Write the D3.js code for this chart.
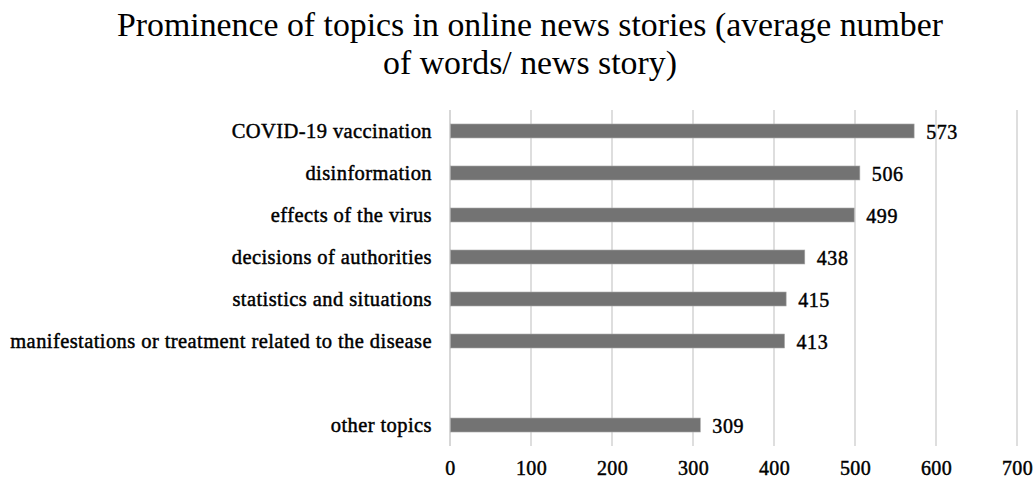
<!DOCTYPE html>
<html>
<head>
<meta charset="utf-8">
<script src="https://cdn.jsdelivr.net/npm/d3@7"></script>
<style>
  html, body { margin: 0; padding: 0; background: #fff; }
  svg { display: block; }
  text { font-family: "Liberation Serif", "Times New Roman", serif; fill: #000; }
</style>
</head>
<body>
<svg id="chart" width="1033" height="480"></svg>
<script>
// Topics, top to bottom; the blank entry keeps an empty row before "other topics"
const topics = [
  "COVID-19 vaccination",
  "disinformation",
  "effects of the virus",
  "decisions of authorities",
  "statistics and situations",
  "manifestations or treatment related to the disease",
  "",
  "other topics"
];
const avgWords = [573, 506, 499, 438, 415, 413, null, 309];
const xTicks = [0, 100, 200, 300, 400, 500, 600, 700];
const titleLines = [
  "Prominence of topics in online news stories (average number",
  "of words/ news story)"
];

const svg = d3.select("#chart");
const margin = { left: 450, right: 16, top: 110, bottom: 34 };
const W = 1033, H = 480;

const x = d3.scaleLinear().domain([0, 700]).range([margin.left, W - margin.right]);
const y = d3.scaleBand()
  .domain(topics.map((t, i) => i))
  .range([margin.top, H - margin.bottom])
  .paddingInner(0.667)
  .paddingOuter(0.333);

// Title
svg.append("g").selectAll("text").data(titleLines).join("text")
  .attr("x", 530)
  .attr("y", (d, i) => 36 + i * 38)
  .attr("text-anchor", "middle")
  .attr("font-size", 33.8)
  .text(d => d);

// Vertical gridlines
svg.append("g").selectAll("line").data(xTicks.slice(1)).join("line")
  .attr("x1", d => x(d)).attr("x2", d => x(d))
  .attr("y1", margin.top).attr("y2", H - margin.bottom)
  .attr("stroke", "#c8c8c8").attr("stroke-width", 1.2);

// Category axis line
svg.append("line")
  .attr("x1", x(0)).attr("x2", x(0))
  .attr("y1", margin.top).attr("y2", H - margin.bottom)
  .attr("stroke", "#bdbdbd").attr("stroke-width", 1.2);

// Bars
const rows = topics.map((t, i) => ({ i, t, v: avgWords[i] })).filter(d => d.v != null);
svg.append("g").selectAll("rect").data(rows).join("rect")
  .attr("x", x(0) + 0.5)
  .attr("y", d => y(d.i))
  .attr("width", d => x(d.v) - x(0) - 0.5)
  .attr("height", y.bandwidth())
  .attr("fill", "#737373")
  .attr("stroke", "#a8a8a8")
  .attr("stroke-width", 0.6);

// Value labels
svg.append("g").selectAll("text").data(rows).join("text")
  .attr("x", d => x(d.v) + 12)
  .attr("y", d => y(d.i) + y.bandwidth() / 2)
  .attr("dy", "0.38em")
  .attr("font-size", 20)
  .attr("letter-spacing", 0.6)
  .attr("stroke", "#000").attr("stroke-width", 0.45)
  .text(d => d.v);

// Category labels
svg.append("g").selectAll("text").data(rows).join("text")
  .attr("x", x(0) - 18)
  .attr("y", d => y(d.i) + y.bandwidth() / 2)
  .attr("dy", "0.36em")
  .attr("text-anchor", "end")
  .attr("font-size", 20.5)
  .attr("letter-spacing", 0.42)
  .attr("stroke", "#000").attr("stroke-width", 0.45)
  .text(d => d.t);

// X axis tick labels
const xAxis = d3.axisBottom(x).tickValues(xTicks).tickSize(0).tickPadding(15);
const gx = svg.append("g")
  .attr("transform", `translate(0,${H - margin.bottom})`)
  .call(xAxis);
gx.select(".domain").remove();
gx.selectAll("text")
  .attr("font-family", "Liberation Serif, serif")
  .attr("font-size", 20)
  .attr("letter-spacing", 0.3)
  .attr("fill", "#000")
  .attr("stroke", "#000").attr("stroke-width", 0.45);
</script>
</body>
</html>
